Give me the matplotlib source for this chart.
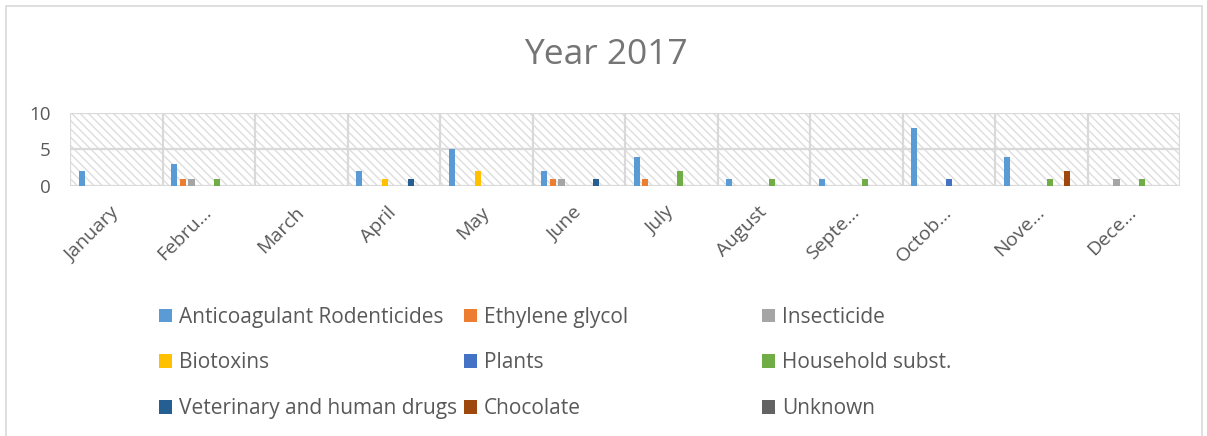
import matplotlib
matplotlib.use("Agg")
import matplotlib.pyplot as plt
from matplotlib.patches import Rectangle, Patch
import numpy as np

plt.rcParams["font.family"] = ["Open Sans", "DejaVu Sans"]
plt.rcParams["hatch.linewidth"] = 1.0

# Monthly case counts, 2017
months = ["January", "Febru…", "March", "April", "May", "June",
          "July", "August", "Septe…", "Octob…", "Nove…", "Dece…"]
anticoagulant = [2, 3, 0, 2, 5, 2, 4, 1, 1, 8, 4, 0]
ethylene_glycol = [0, 1, 0, 0, 0, 1, 1, 0, 0, 0, 0, 0]
insecticide = [0, 1, 0, 0, 0, 1, 0, 0, 0, 0, 0, 1]
biotoxins = [0, 0, 0, 1, 2, 0, 0, 0, 0, 0, 0, 0]
plants = [0, 0, 0, 0, 0, 0, 0, 0, 0, 1, 0, 0]
household = [0, 1, 0, 0, 0, 0, 2, 1, 1, 0, 1, 1]
vet_drugs = [0, 0, 0, 1, 0, 1, 0, 0, 0, 0, 0, 0]
chocolate = [0, 0, 0, 0, 0, 0, 0, 0, 0, 0, 2, 0]
unknown = [0, 0, 0, 0, 0, 0, 0, 0, 0, 0, 0, 0]

series_names = ["Anticoagulant Rodenticides", "Ethylene glycol", "Insecticide",
                "Biotoxins", "Plants", "Household subst.",
                "Veterinary and human drugs", "Chocolate", "Unknown"]
series_values = [anticoagulant, ethylene_glycol, insecticide, biotoxins, plants,
                 household, vet_drugs, chocolate, unknown]
series_colors = ["#5B9BD5", "#ED7D31", "#A5A5A5", "#FFC000", "#4472C4",
                 "#70AD47", "#255E91", "#9E480E", "#636363"]

W, H = 1207, 436
fig = plt.figure(figsize=(W / 100, H / 100), dpi=100)

# chart-area border
fig.patches.append(Rectangle((6 / W, -0.1), 1196 / W, 1.1 - 6 / H,
                             transform=fig.transFigure, fill=False,
                             edgecolor="#d9d9d9", lw=1.2))

ax = fig.add_axes([70 / W, 1 - 186 / H, 1110 / W, 73 / H])
x = np.arange(len(months))
step = 0.093
bar_w = 0.066
handles = []
for i, (name, vals, col) in enumerate(zip(series_names, series_values, series_colors)):
    ax.bar(x + (i - 4) * step, vals, width=bar_w, color=col, zorder=3)
    handles.append(Patch(facecolor=col, label=name))

ax.set_xlim(-0.5, len(months) - 0.5)
ax.set_ylim(0, 10)

# hatched plot-area background
ax.add_patch(Rectangle((0, 0), 1, 1, transform=ax.transAxes, facecolor="none",
                       edgecolor="#dedede", hatch="\\\\\\\\", lw=0, zorder=0))

for s in ax.spines.values():
    s.set_visible(False)
for yv in [0, 5, 10]:
    ax.axhline(yv, color="#d9d9d9", lw=1.6, zorder=1)
for xb in np.arange(-0.5, len(months), 1.0):
    ax.axvline(xb, color="#d9d9d9", lw=1.6, zorder=1)

ax.set_yticks([0, 5, 10])
ax.set_yticklabels(["0", "5", "10"], fontsize=13.5, color="#595959")
ax.set_xticks(x)
ax.set_xticklabels(months, rotation=45, ha="right", va="center",
                   rotation_mode="anchor", fontsize=14, color="#595959")
ax.tick_params(axis="both", length=0)
ax.tick_params(axis="y", pad=14)
ax.tick_params(axis="x", pad=17)

fig.text(606 / W, 1 - 55 / H, "Year 2017", ha="center", va="center",
         fontsize=25.5, color="#757575")

# legend in three columns
col_x = [159, 464, 762]
for c in range(3):
    leg = fig.legend(handles=handles[c::3], loc="center left",
                     bbox_to_anchor=(col_x[c] / W, 1 - 363 / H),
                     frameon=False, fontsize=15, handlelength=0.63,
                     handleheight=0.63, handletextpad=0.33, labelspacing=1.19,
                     borderpad=0, borderaxespad=0)
    for t in leg.get_texts():
        t.set_color("#595959")

fig.savefig("out.png", dpi=100)
